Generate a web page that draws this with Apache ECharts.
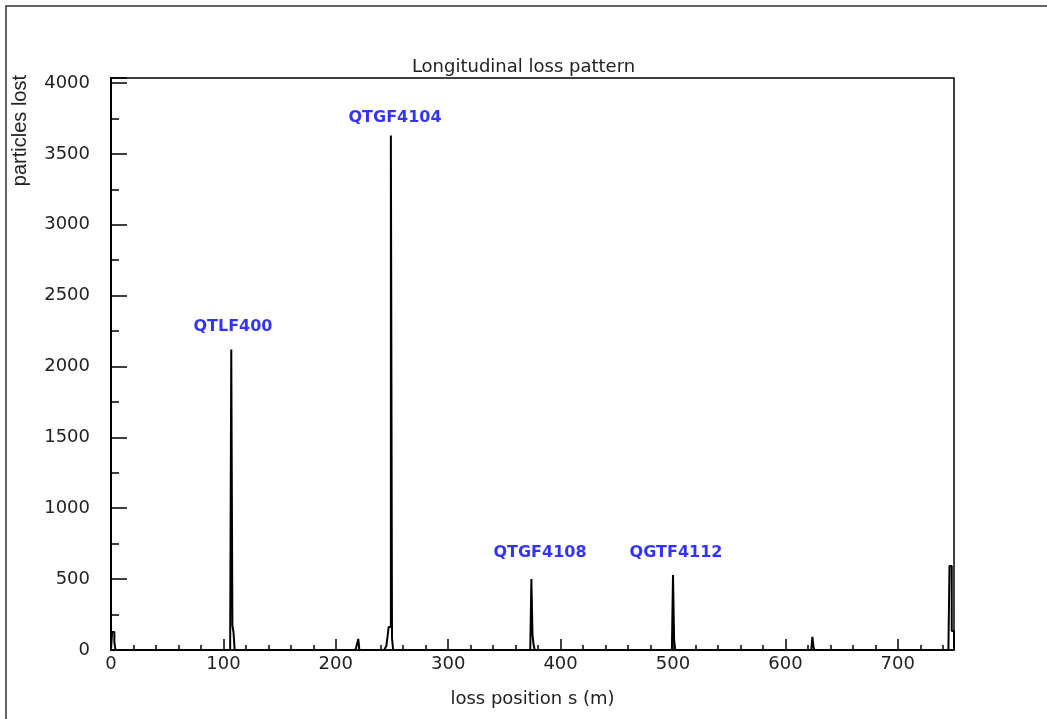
<!DOCTYPE html>
<html>
<head>
<meta charset="utf-8">
<title>Longitudinal loss pattern</title>
<script src="https://cdn.jsdelivr.net/npm/echarts@6/dist/echarts.min.js"></script>
<style>
  html, body { margin: 0; padding: 0; background: #fff; }
  #main { width: 1047px; height: 719px; }
</style>
</head>
<body>
<div id="main"></div>
<script>
// histogram bins (1 m wide, low edge in m) and particles lost per bin
var lossPos = [0, 1, 2, 3, 4,
    106, 107, 108, 109, 110,
    217, 218, 219, 220, 221,
    243, 244, 245, 246, 247, 248, 249, 250, 251,
    373, 374, 375, 376, 377,
    499, 500, 501, 502,
    623, 624, 625, 626,
    745, 746, 747, 748, 749, 750];
var lost = [0, 127, 127, 55, 0,
    0, 2120, 175, 125, 0,
    0, 15, 45, 78, 0,
    0, 15, 30, 92, 162, 162, 3630, 85, 0,
    0, 500, 106, 35, 0,
    0, 529, 70, 0,
    0, 92, 20, 0,
    0, 593, 593, 134, 134, 0];

// element names written over the main peaks
var tagNames = ['QTLF400', 'QTGF4104', 'QTGF4108', 'QGTF4112'];
var tagPos = [108.5, 252.7, 381.7, 502.7];
var tagLevel = [2279, 3753, 684, 684];

var lineData = lossPos.map(function (s, i) { return [s, lost[i]]; });
var tagData = tagNames.map(function (n, i) { return { name: n, value: [tagPos[i], tagLevel[i]] }; });

var labelFont = "'DejaVu Sans', sans-serif";

var myChart = echarts.init(document.getElementById('main'));

var option = {
    backgroundColor: '#fff',
    animation: false,
    title: {
        text: 'Longitudinal loss pattern',
        left: 'center',
        top: 53,
        textStyle: { fontFamily: labelFont, fontSize: 18, fontWeight: 'normal', color: '#222' }
    },
    grid: {
        left: 111, right: 93, top: 78, bottom: 69,
        show: true, borderColor: '#000', borderWidth: 1.5, backgroundColor: 'transparent'
    },
    xAxis: {
        type: 'value',
        min: 0, max: 750, interval: 100,
        name: 'loss position s (m)',
        nameLocation: 'middle',
        nameGap: 40,
        nameTextStyle: { fontFamily: labelFont, fontSize: 18, color: '#222' },
        axisLine: { show: true, onZero: false, lineStyle: { color: '#000', width: 1.5 } },
        axisTick: { show: true, inside: true, length: 11, lineStyle: { color: '#000', width: 1.5 } },
        minorTick: { show: true, splitNumber: 5, length: 5, lineStyle: { color: '#000', width: 1.5 } },
        axisLabel: { showMaxLabel: false, margin: 5, fontFamily: labelFont, fontSize: 18, color: '#222' },
        splitLine: { show: false }
    },
    yAxis: {
        type: 'value',
        min: 0, max: 4035, interval: 500,
        axisLine: { show: true, lineStyle: { color: '#000', width: 2 } },
        axisTick: { show: true, inside: true, length: 16, lineStyle: { color: '#000', width: 1.5 } },
        minorTick: { show: true, splitNumber: 2, length: 8, lineStyle: { color: '#000', width: 1.5 } },
        axisLabel: {
            showMaxLabel: false, margin: 21, fontFamily: labelFont, fontSize: 18, color: '#222',
            formatter: function (v) { return String(v); }
        },
        splitLine: { show: false }
    },
    graphic: [
        {
            type: 'polyline',
            shape: { points: [[6, 719], [6, 6], [1047, 6]] },
            style: { stroke: '#333', lineWidth: 1.5, fill: null }
        },
        {
            type: 'text',
            x: 10, y: 75,
            rotation: Math.PI / 2,
            style: {
                text: 'particles lost',
                fontFamily: "'Liberation Sans Narrow', 'Liberation Sans', sans-serif",
                fontSize: 20,
                fill: '#222',
                align: 'right',
                verticalAlign: 'top'
            }
        }
    ],
    series: [
        {
            type: 'line',
            step: 'end',
            data: lineData,
            showSymbol: false,
            lineStyle: { color: '#000', width: 2 },
            z: 3
        },
        {
            type: 'scatter',
            data: tagData,
            symbolSize: 0,
            label: {
                show: true,
                position: 'inside',
                formatter: '{b}',
                fontFamily: "'DejaVu Sans', sans-serif",
                fontWeight: 'bold',
                fontSize: 16,
                color: '#0000ff'
            },
            z: 4
        }
    ]
};

myChart.setOption(option);
</script>
</body>
</html>
